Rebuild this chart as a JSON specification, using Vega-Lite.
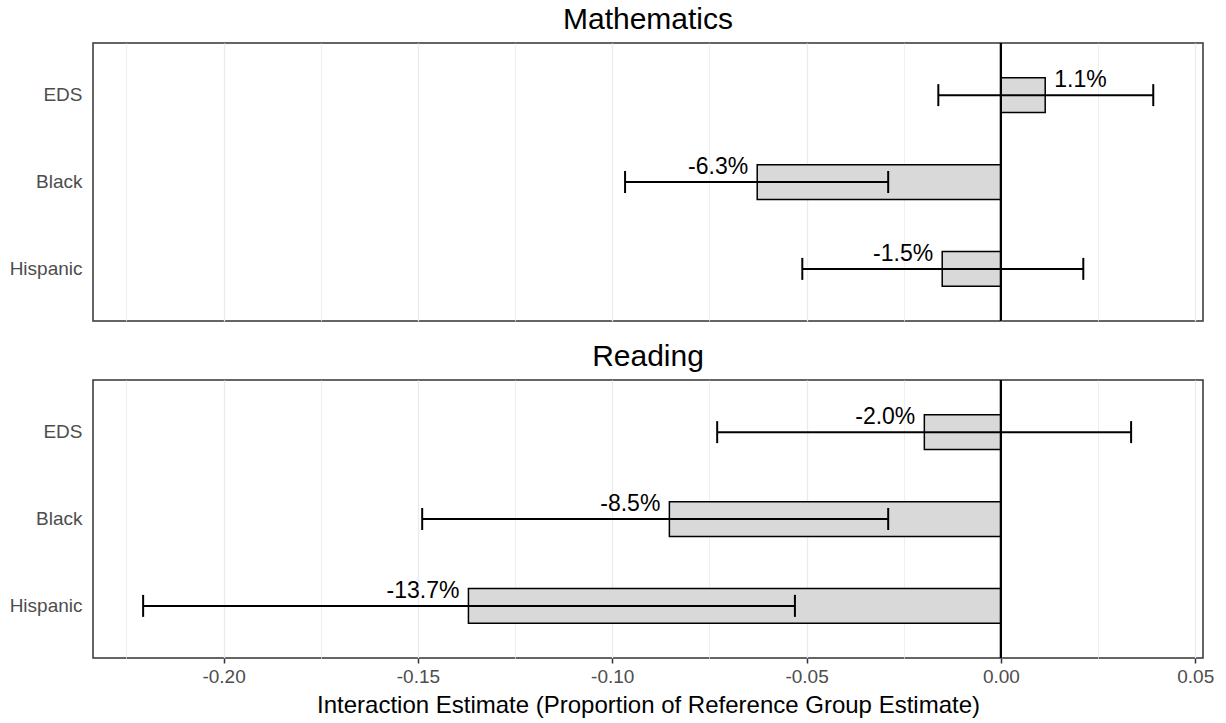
{
  "$schema": "https://vega.github.io/schema/vega-lite/v6.json",
  "padding": {"left": 0, "top": 4, "right": 0, "bottom": 0},
  "autosize": {"type": "pad"},
  "config": {
    "font": "Liberation Sans",
    "view": {"stroke": "#333333", "strokeWidth": 1.5},
    "title": {"fontSize": 30, "fontWeight": "normal", "color": "black", "anchor": "middle", "offset": 7},
    "concat": {"spacing": 18}
  },
  "datasets": {
    "est": [
      {"subject": "Mathematics", "group": "EDS", "estimate": 0.0114, "lo": -0.0161, "hi": 0.0392, "label": "1.1%"},
      {"subject": "Mathematics", "group": "Black", "estimate": -0.0627, "lo": -0.0967, "hi": -0.029, "label": "-6.3%"},
      {"subject": "Mathematics", "group": "Hispanic", "estimate": -0.0151, "lo": -0.0511, "hi": 0.0212, "label": "-1.5%"},
      {"subject": "Reading", "group": "EDS", "estimate": -0.0197, "lo": -0.073, "hi": 0.0335, "label": "-2.0%"},
      {"subject": "Reading", "group": "Black", "estimate": -0.0853, "lo": -0.1489, "hi": -0.029, "label": "-8.5%"},
      {"subject": "Reading", "group": "Hispanic", "estimate": -0.137, "lo": -0.2207, "hi": -0.053, "label": "-13.7%"}
    ]
  },
  "vconcat": [
    {
      "title": "Mathematics",
      "width": 1110,
      "height": 278,
      "data": {"name": "est"},
      "transform": [{"filter": "datum.subject == 'Mathematics'"}],
      "encoding": {
        "y": {"field": "group", "type": "nominal", "bandPosition": 0.5,
          "scale": {"domain": ["EDS", "Black", "Hispanic"], "paddingInner": 0.6, "paddingOuter": 0.4},
          "axis": {"title": null, "ticks": false, "domain": false, "labelPadding": 11, "labelFontSize": 19, "labelColor": "#4d4d4d", "minExtent": 92, "maxExtent": 92}}
      },
      "layer": [
        {
          "mark": {"type": "bar", "fill": "#d9d9d9", "stroke": "black", "strokeWidth": 1.5},
          "encoding": {
            "x": {"field": "estimate", "type": "quantitative",
              "scale": {"domain": [-0.2336, 0.052], "nice": false, "zero": false},
              "axis": {"title": null, "labels": false, "ticks": false, "domain": false,
                "values": [-0.225, -0.2, -0.175, -0.15, -0.125, -0.1, -0.075, -0.05, -0.025, 0, 0.025, 0.05],
                "gridColor": "#ebebeb",
                "gridWidth": {"condition": {"test": "round(datum.value*40) % 2 == 0", "value": 1.3}, "value": 0.8}}}
          }
        },
        {
          "mark": {"type": "rule", "color": "black", "strokeWidth": 2},
          "encoding": {"x": {"field": "lo", "type": "quantitative"}, "x2": {"field": "hi"}}
        },
        {
          "mark": {"type": "tick", "color": "black", "thickness": 2, "size": 22, "opacity": 1, "orient": "vertical"},
          "encoding": {"x": {"field": "lo", "type": "quantitative"}}
        },
        {
          "mark": {"type": "tick", "color": "black", "thickness": 2, "size": 22, "opacity": 1, "orient": "vertical"},
          "encoding": {"x": {"field": "hi", "type": "quantitative"}}
        },
        {
          "mark": {"type": "rule", "color": "black", "strokeWidth": 2},
          "encoding": {"x": {"datum": 0}, "y": null}
        },
        {
          "transform": [{"filter": "datum.estimate > 0"}],
          "mark": {"type": "text", "align": "left", "baseline": "alphabetic", "dx": 9, "dy": -8, "fontSize": 23, "color": "black"},
          "encoding": {"x": {"field": "estimate", "type": "quantitative"}, "text": {"field": "label"}}
        },
        {
          "transform": [{"filter": "datum.estimate <= 0"}],
          "mark": {"type": "text", "align": "right", "baseline": "alphabetic", "dx": -9, "dy": -8, "fontSize": 23, "color": "black"},
          "encoding": {"x": {"field": "estimate", "type": "quantitative"}, "text": {"field": "label"}}
        }
      ]
    },
    {
      "title": "Reading",
      "width": 1110,
      "height": 278,
      "data": {"name": "est"},
      "transform": [{"filter": "datum.subject == 'Reading'"}],
      "encoding": {
        "y": {"field": "group", "type": "nominal", "bandPosition": 0.5,
          "scale": {"domain": ["EDS", "Black", "Hispanic"], "paddingInner": 0.6, "paddingOuter": 0.4},
          "axis": {"title": null, "ticks": false, "domain": false, "labelPadding": 11, "labelFontSize": 19, "labelColor": "#4d4d4d", "minExtent": 92, "maxExtent": 92}}
      },
      "layer": [
        {
          "mark": {"type": "bar", "fill": "#d9d9d9", "stroke": "black", "strokeWidth": 1.5},
          "encoding": {
            "x": {"field": "estimate", "type": "quantitative",
              "scale": {"domain": [-0.2336, 0.052], "nice": false, "zero": false},
              "axis": {"title": "Interaction Estimate (Proportion of Reference Group Estimate)",
                "titleFontSize": 24, "titleFontWeight": "normal", "titleColor": "black", "titlePadding": 7,
                "domain": false, "labelFontSize": 19, "labelColor": "#4d4d4d", "labelPadding": 4,
                "tickSize": 5, "tickWidth": 1.5,
                "tickColor": {"condition": {"test": "round(datum.value*40) % 2 == 0", "value": "#333333"}, "value": "transparent"},
                "values": [-0.225, -0.2, -0.175, -0.15, -0.125, -0.1, -0.075, -0.05, -0.025, 0, 0.025, 0.05],
                "labelExpr": "round(datum.value*40) % 2 == 0 ? replace(format(datum.value, '.2f'), '\u2212', '-') : ''",
                "gridColor": "#ebebeb",
                "gridWidth": {"condition": {"test": "round(datum.value*40) % 2 == 0", "value": 1.3}, "value": 0.8}}}
          }
        },
        {
          "mark": {"type": "rule", "color": "black", "strokeWidth": 2},
          "encoding": {"x": {"field": "lo", "type": "quantitative"}, "x2": {"field": "hi"}}
        },
        {
          "mark": {"type": "tick", "color": "black", "thickness": 2, "size": 22, "opacity": 1, "orient": "vertical"},
          "encoding": {"x": {"field": "lo", "type": "quantitative"}}
        },
        {
          "mark": {"type": "tick", "color": "black", "thickness": 2, "size": 22, "opacity": 1, "orient": "vertical"},
          "encoding": {"x": {"field": "hi", "type": "quantitative"}}
        },
        {
          "mark": {"type": "rule", "color": "black", "strokeWidth": 2},
          "encoding": {"x": {"datum": 0}, "y": null}
        },
        {
          "transform": [{"filter": "datum.estimate > 0"}],
          "mark": {"type": "text", "align": "left", "baseline": "alphabetic", "dx": 9, "dy": -8, "fontSize": 23, "color": "black"},
          "encoding": {"x": {"field": "estimate", "type": "quantitative"}, "text": {"field": "label"}}
        },
        {
          "transform": [{"filter": "datum.estimate <= 0"}],
          "mark": {"type": "text", "align": "right", "baseline": "alphabetic", "dx": -9, "dy": -8, "fontSize": 23, "color": "black"},
          "encoding": {"x": {"field": "estimate", "type": "quantitative"}, "text": {"field": "label"}}
        }
      ]
    }
  ]
}
